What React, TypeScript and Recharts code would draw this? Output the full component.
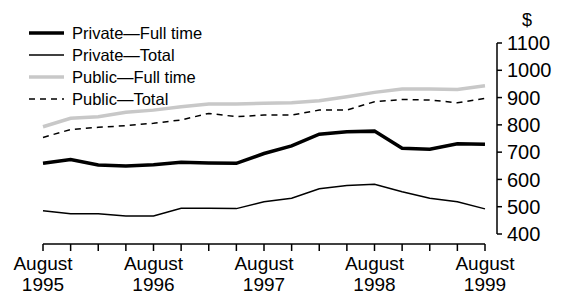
import { Legend, Line, LineChart, ReferenceLine, XAxis, YAxis } from "recharts";

const quarters = [
  "Aug-95", "Nov-95", "Feb-96", "May-96",
  "Aug-96", "Nov-96", "Feb-97", "May-97",
  "Aug-97", "Nov-97", "Feb-98", "May-98",
  "Aug-98", "Nov-98", "Feb-99", "May-99",
  "Aug-99",
];

const privateFullTime = [659, 673, 653, 649, 654, 663, 660, 659, 695, 723, 766, 775, 777, 714, 711, 731, 729];
const privateTotal = [485, 474, 474, 466, 466, 494, 494, 493, 518, 531, 566, 578, 582, 555, 531, 518, 492];
const publicFullTime = [793, 824, 830, 846, 854, 866, 876, 876, 879, 881, 888, 903, 919, 931, 931, 930, 943];
const publicTotal = [754, 783, 791, 797, 806, 818, 842, 830, 836, 836, 854, 854, 885, 893, 891, 881, 897];

const yTicks = [400, 500, 600, 700, 800, 900, 1000, 1100];

// the x axis line sits a little below the bottom of the y axis
const AXIS_FLOOR = 363.4;

const FONT = "'Liberation Sans', Arial, sans-serif";

const data = quarters.map((quarter, i) => ({
  quarter,
  privateFull: privateFullTime[i],
  privateTotal: privateTotal[i],
  publicFull: publicFullTime[i],
  publicTotal: publicTotal[i],
}));

const legendItems = [
  { name: "Private—Full time", stroke: "#000", width: 3.5, dash: undefined },
  { name: "Private—Total", stroke: "#000", width: 1.5, dash: undefined },
  { name: "Public—Full time", stroke: "#c8c8c8", width: 3.5, dash: undefined },
  { name: "Public—Total", stroke: "#000", width: 1.5, dash: "6 5" },
];

function QuarterTick({ x, y, payload }: any) {
  const [month, yy] = String(payload.value).split("-");
  return (
    <g>
      <line x1={x} y1={y + 10} x2={x} y2={y + 17} stroke="#000" strokeWidth={1.5} />
      {month === "Aug" && (
        <text x={x} y={y + 36} textAnchor="middle" fontSize={19} fontFamily={FONT} fill="#000">
          <tspan x={x}>August</tspan>
          <tspan x={x} dy={21}>19{yy}</tspan>
        </text>
      )}
    </g>
  );
}

function LegendBox() {
  return (
    <div style={{ fontFamily: FONT, fontSize: 16.5, color: "#000" }}>
      {legendItems.map((item) => (
        <div key={item.name} style={{ display: "flex", alignItems: "center", height: 22 }}>
          <svg width={35} height={22} style={{ display: "block" }}>
            <line
              x1={0}
              y1={11}
              x2={35}
              y2={11}
              stroke={item.stroke}
              strokeWidth={item.width}
              strokeDasharray={item.dash}
            />
          </svg>
          <span style={{ marginLeft: 8, whiteSpace: "nowrap" }}>{item.name}</span>
        </div>
      ))}
    </div>
  );
}

export default function App() {
  return (
    <div style={{ position: "absolute", left: 0, top: 0 }}>
      <LineChart width={565} height={297} data={data} margin={{ top: 43, right: 8, bottom: 13, left: 43 }}>
        <XAxis
          dataKey="quarter"
          interval={0}
          axisLine={false}
          tickLine={false}
          tickSize={0}
          tickMargin={0}
          height={50}
          padding={{ left: 0, right: 12 }}
          tick={<QuarterTick />}
        />
        <YAxis
          orientation="right"
          domain={[400, 1100]}
          ticks={yTicks}
          interval={0}
          width={60}
          tickSize={5}
          tickMargin={5}
          axisLine={{ stroke: "#000", strokeWidth: 1.5 }}
          tickLine={{ stroke: "#000", strokeWidth: 1.5 }}
          tick={{ fill: "#000", fontSize: 20, fontFamily: FONT }}
          label={{ value: "$", position: "top", offset: 17, fill: "#000", fontSize: 18, fontFamily: FONT }}
        />
        <ReferenceLine
          segment={[
            { x: quarters[0], y: AXIS_FLOOR },
            { x: quarters[quarters.length - 1], y: AXIS_FLOOR },
          ]}
          ifOverflow="visible"
          stroke="#000"
          strokeWidth={1.5}
        />
        <Legend
          layout="vertical"
          align="center"
          verticalAlign="middle"
          wrapperStyle={{ left: 29, top: 22, width: 220 }}
          content={<LegendBox />}
        />
        <Line type="linear" dataKey="publicFull" stroke="#c8c8c8" strokeWidth={3.5} dot={false} isAnimationActive={false} />
        <Line type="linear" dataKey="publicTotal" stroke="#000" strokeWidth={1.5} strokeDasharray="6 5" dot={false} isAnimationActive={false} />
        <Line type="linear" dataKey="privateTotal" stroke="#000" strokeWidth={1.5} dot={false} isAnimationActive={false} />
        <Line type="linear" dataKey="privateFull" stroke="#000" strokeWidth={3.5} dot={false} isAnimationActive={false} />
      </LineChart>
    </div>
  );
}
